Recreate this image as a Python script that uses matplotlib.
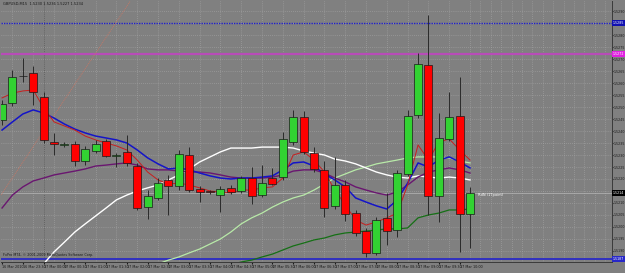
import numpy as np
import matplotlib
matplotlib.use('Agg')
import matplotlib.pyplot as plt
from matplotlib.transforms import blended_transform_factory

# GBPUSD M15, prices given as pips above 1.5200
base = 1.5200
open_pips = [44.6, 51.7, 63.0, 64.2, 54.2, 35.4, 34.0, 34.6, 27.5, 31.7,
             35.8, 29.6, 31.3, 25.4, 8.3, 12.1, 19.6, 17.1, 30.0, 15.8,
             14.8, 13.3, 16.3, 15.0, 20.4, 13.3, 20.4, 20.8, 35.4, 45.8,
             30.8, 23.8, 8.8, 17.5, 5.8, -1.7, -10.8, 3.8, -1.3, 22.1,
             46.7, 67.5, 12.9, 36.7, 46.3, 5.4]
high_pips = [52.9, 65.4, 70.4, 67.1, 56.3, 39.2, 35.4, 35.8, 33.8, 36.3,
             36.7, 30.8, 38.3, 26.7, 15.4, 20.4, 21.7, 32.1, 33.3, 17.1,
             15.4, 17.1, 17.5, 21.3, 25.0, 25.8, 24.6, 39.6, 48.8, 48.3,
             33.3, 27.5, 29.2, 19.6, 7.1, -0.4, 4.2, 14.2, 23.8, 48.8,
             72.5, 88.3, 47.5, 56.3, 62.5, 16.7]
low_pips = [42.5, 50.4, 60.4, 50.8, 35.0, 30.0, 33.3, 25.4, 25.8, 30.8,
            29.2, 25.0, 25.4, 7.1, 3.3, 11.3, 5.0, 15.4, 14.6, 10.4,
            13.8, 6.3, 13.8, 14.2, 9.6, 12.5, 17.5, 19.6, 34.2, 30.4,
            22.9, 4.2, 7.5, 2.5, -3.8, -12.5, -11.7, -7.5, -4.2, 21.3,
            45.4, 5.0, 2.1, 35.8, -10.4, -8.8]
close_pips = [51.3, 62.5, 62.8, 56.3, 36.3, 34.6, 34.6, 27.5, 32.5, 34.6,
              29.6, 30.0, 26.7, 7.9, 12.9, 18.3, 17.1, 30.4, 15.4, 14.6,
              14.4, 15.8, 14.6, 20.4, 12.9, 18.3, 17.9, 36.7, 45.8, 31.3,
              24.2, 7.9, 17.5, 5.4, -2.5, -10.8, 2.9, -1.7, 22.5, 46.3,
              67.9, 12.9, 37.1, 45.8, 5.4, 14.2]

nan = np.nan
ma_red = [53.8, 55.8, 56.7, 57.1, 49.6, 43.8, 42.1, 40.4, 37.9, 36.3,
          35.0, 33.8, 32.1, 27.9, 22.9, 19.6, 17.9, 18.3, 17.5, 16.3,
          15.0, 14.6, 14.2, 15.4, 15.4, 16.3, 16.7, 20.4, 30.0, 31.3,
          27.9, 22.9, 15.4, 9.2, 2.9, 0.8, 2.1, 3.8, 5.8, 17.5,
          34.2, 27.9, 35.4, 36.7, 32.1, 27.9]
ma_blue = [40.4, 43.8, 47.1, 48.8, 47.5, 45.4, 42.9, 40.8, 39.2, 37.9,
           37.1, 36.3, 35.0, 32.1, 28.8, 26.3, 24.2, 24.6, 23.8, 22.5,
           21.3, 20.4, 20.0, 20.4, 20.4, 20.8, 21.3, 23.8, 26.7, 27.1,
           25.4, 22.1, 19.6, 16.7, 12.1, 10.4, 8.8, 7.5, 11.3, 18.3,
           26.7, 25.0, 27.9, 29.2, 27.1, 24.6]
ma_purple = [7.9, 13.3, 16.7, 19.2, 20.4, 21.7, 22.5, 23.3, 24.2, 25.4,
             25.8, 26.3, 26.7, 25.8, 24.2, 23.8, 23.8, 23.3, 22.9, 22.9,
             22.5, 21.7, 20.8, 20.4, 20.4, 20.4, 20.8, 21.7, 23.3, 23.8,
             23.8, 22.5, 20.4, 18.8, 16.7, 15.4, 14.2, 13.3, 14.6, 17.5,
             20.8, 22.9, 23.8, 24.6, 23.8, 22.5]
ma_white = [nan, nan, nan, nan, -15.4, -10.4, -6.3, -2.1, 1.3, 4.6,
            7.9, 11.3, 13.3, 15.0, 16.3, 17.5, 19.6, 21.7, 24.2, 27.1,
            29.2, 31.3, 32.9, 32.9, 32.9, 33.3, 33.3, 33.3, 32.9, 31.7,
            30.8, 30.0, 28.3, 27.5, 26.3, 24.6, 22.9, 21.7, 20.8, 20.4,
            21.3, 20.8, 20.4, 20.8, 20.4, 19.6]
ma_lightgreen = [nan] * 15 + [
    -15.4, -13.8, -12.5, -10.8, -9.2, -7.1, -5.0, -2.1, 1.3, 3.8,
    5.8, 8.3, 10.4, 12.1, 13.3, 15.4, 17.9, 20.4, 22.1, 23.8,
    25.0, 26.3, 27.1, 27.9, 28.8, 29.2, 29.2, 29.2, 28.8, 27.5, 26.7]
ma_darkgreen = [nan] * 20 + [
    -17.9, -16.7, -15.8, -14.6, -13.8, -12.5, -11.3, -9.6, -7.9, -6.7,
    -5.4, -4.6, -3.3, -2.5, -2.1, -1.7, -1.3, -0.8, -0.8, -0.4,
    3.8, 5.0, 5.8, 7.1, 7.1, 7.5]

time_labels = ['16 Mar 2010', '16 Mar 23:30'] + [
    '17 Mar %02d:%s' % (h, m) for h in range(0, 11) for m in ('00', '30')]
time_labels = time_labels[:23]

level_blue_dot = 1.52850
level_magenta = 1.52721
level_blue_low = 1.51867
trend_a = (4, 1.52400)
trend_b = (10, 1.52790)

title = 'GBPUSD,M15  1.5230 1.5236 1.5227 1.5234'
copyright = 'FxPro MT4, \u00a9 2001-2009 MetaQuotes Software Corp.'
note = 'RdN (1Tpoint)'

o = base + np.array(open_pips) / 10000
h = base + np.array(high_pips) / 10000
l = base + np.array(low_pips) / 10000
c = base + np.array(close_pips) / 10000
idx = np.arange(len(o))

bg = '#808080'
fig = plt.figure(figsize=(6.25, 2.73), dpi=100, facecolor=bg)
ax = fig.add_axes([1 / 625, 11 / 273, 611 / 625, 261 / 273])
ax.set_facecolor(bg)

ax.set_xlim(-0.1, 58.65)
ax.set_ylim(1.51854, 1.52942)

# grid
ax.set_xticks(np.arange(0, 59), minor=True)
ax.tick_params(axis='x', which='minor', length=0)
ax.grid(which='minor', axis='x', color='#a9a9a9', linestyle=(0, (1, 2)), linewidth=0.5)
ax.grid(which='major', axis='y', color='#a9a9a9', linestyle=(0, (1, 2)), linewidth=0.5)
ax.axvline(4, color='#5a5a5a', linestyle=(0, (1, 1.5)), linewidth=0.6)

# levels
ax.axhline(level_blue_dot, color='#2020c8', linestyle=(0, (1, 0.8)), linewidth=1.0)
ax.axhline(level_magenta, color='#b84cb8', linewidth=1.6)
ax.axhline(level_blue_low, color='#3030c0', linewidth=1.4)
ax.axhline(c[-1], color='#b8b8b8', linewidth=0.5)
ax.axline(trend_a, trend_b, color='#c07868', linestyle=(0, (1, 1)), linewidth=0.7)

# moving averages
ma = [(ma_darkgreen, '#157015', 0.9), (ma_lightgreen, '#b8eaa8', 0.9),
      (ma_white, '#ffffff', 1.0), (ma_purple, '#6a1670', 1.0),
      (ma_blue, '#1414c8', 1.1), (ma_red, '#c81e1e', 0.7)]
for vals, col, lw in ma:
    ax.plot(idx, base + np.array(vals) / 10000, color=col, linewidth=lw, zorder=3)

# candles
up = c >= o
ax.vlines(idx, l, h, color='#2a2a2a', linewidth=0.7, zorder=4)
body_h = np.maximum(np.abs(c - o), 0.000012)
ax.bar(idx[up], body_h[up], bottom=np.minimum(o, c)[up], width=0.78,
       color='#32d232', edgecolor='#1a1a1a', linewidth=0.5, zorder=5)
ax.bar(idx[~up], body_h[~up], bottom=np.minimum(o, c)[~up], width=0.78,
       color='#ff0000', edgecolor='#1a1a1a', linewidth=0.5, zorder=5)

ax.text(45.8, 1.52133, note, color='white', fontsize=2.6, va='center', zorder=6)

# axes styling
marks = [(level_blue_dot, '#1010b0', 'white'), (level_magenta, '#e020e0', 'white'),
         (c[-1], '#000000', 'white'), (level_blue_low, '#2828c8', 'white')]
yt = np.round(np.arange(1.5190, 1.52901, 0.0005), 4)
ax.yaxis.tick_right()
ax.set_yticks(yt)
ax.set_yticklabels(['' if min(abs(v - m[0]) for m in marks) < 0.0002 else '%.4f' % v
                    for v in yt])
ax.tick_params(axis='y', labelsize=2.3, length=1, pad=0.5, colors='#1a1a1a')
ax.set_xticks(np.arange(0, len(time_labels) * 2, 2))
ax.set_xticklabels(time_labels, ha='left')
ax.tick_params(axis='x', labelsize=2.4, length=1.5, pad=1, colors='#1a1a1a')
for s in ['top', 'left']:
    ax.spines[s].set_visible(False)
for s in ['right', 'bottom']:
    ax.spines[s].set_color('#3a3a3a')
    ax.spines[s].set_linewidth(0.7)

# price markers on the right scale
tr = blended_transform_factory(ax.transAxes, ax.transData)
for y, fc, tc in marks:
    ax.text(1.001, y, '%.4f' % y, transform=tr, fontsize=2.3, color=tc, va='center',
            ha='left', bbox=dict(boxstyle='square,pad=0.2', fc=fc, ec='none'),
            clip_on=False, zorder=7)

ax.text(0.003, 0.995, title, transform=ax.transAxes, fontsize=2.6, color='#1a1a1a',
        va='top', ha='left')
ax.text(0.003, 0.018, copyright, transform=ax.transAxes, fontsize=2.4, color='#1a1a1a',
        va='bottom', ha='left')

fig.savefig('out.png', dpi=100, facecolor=bg)
